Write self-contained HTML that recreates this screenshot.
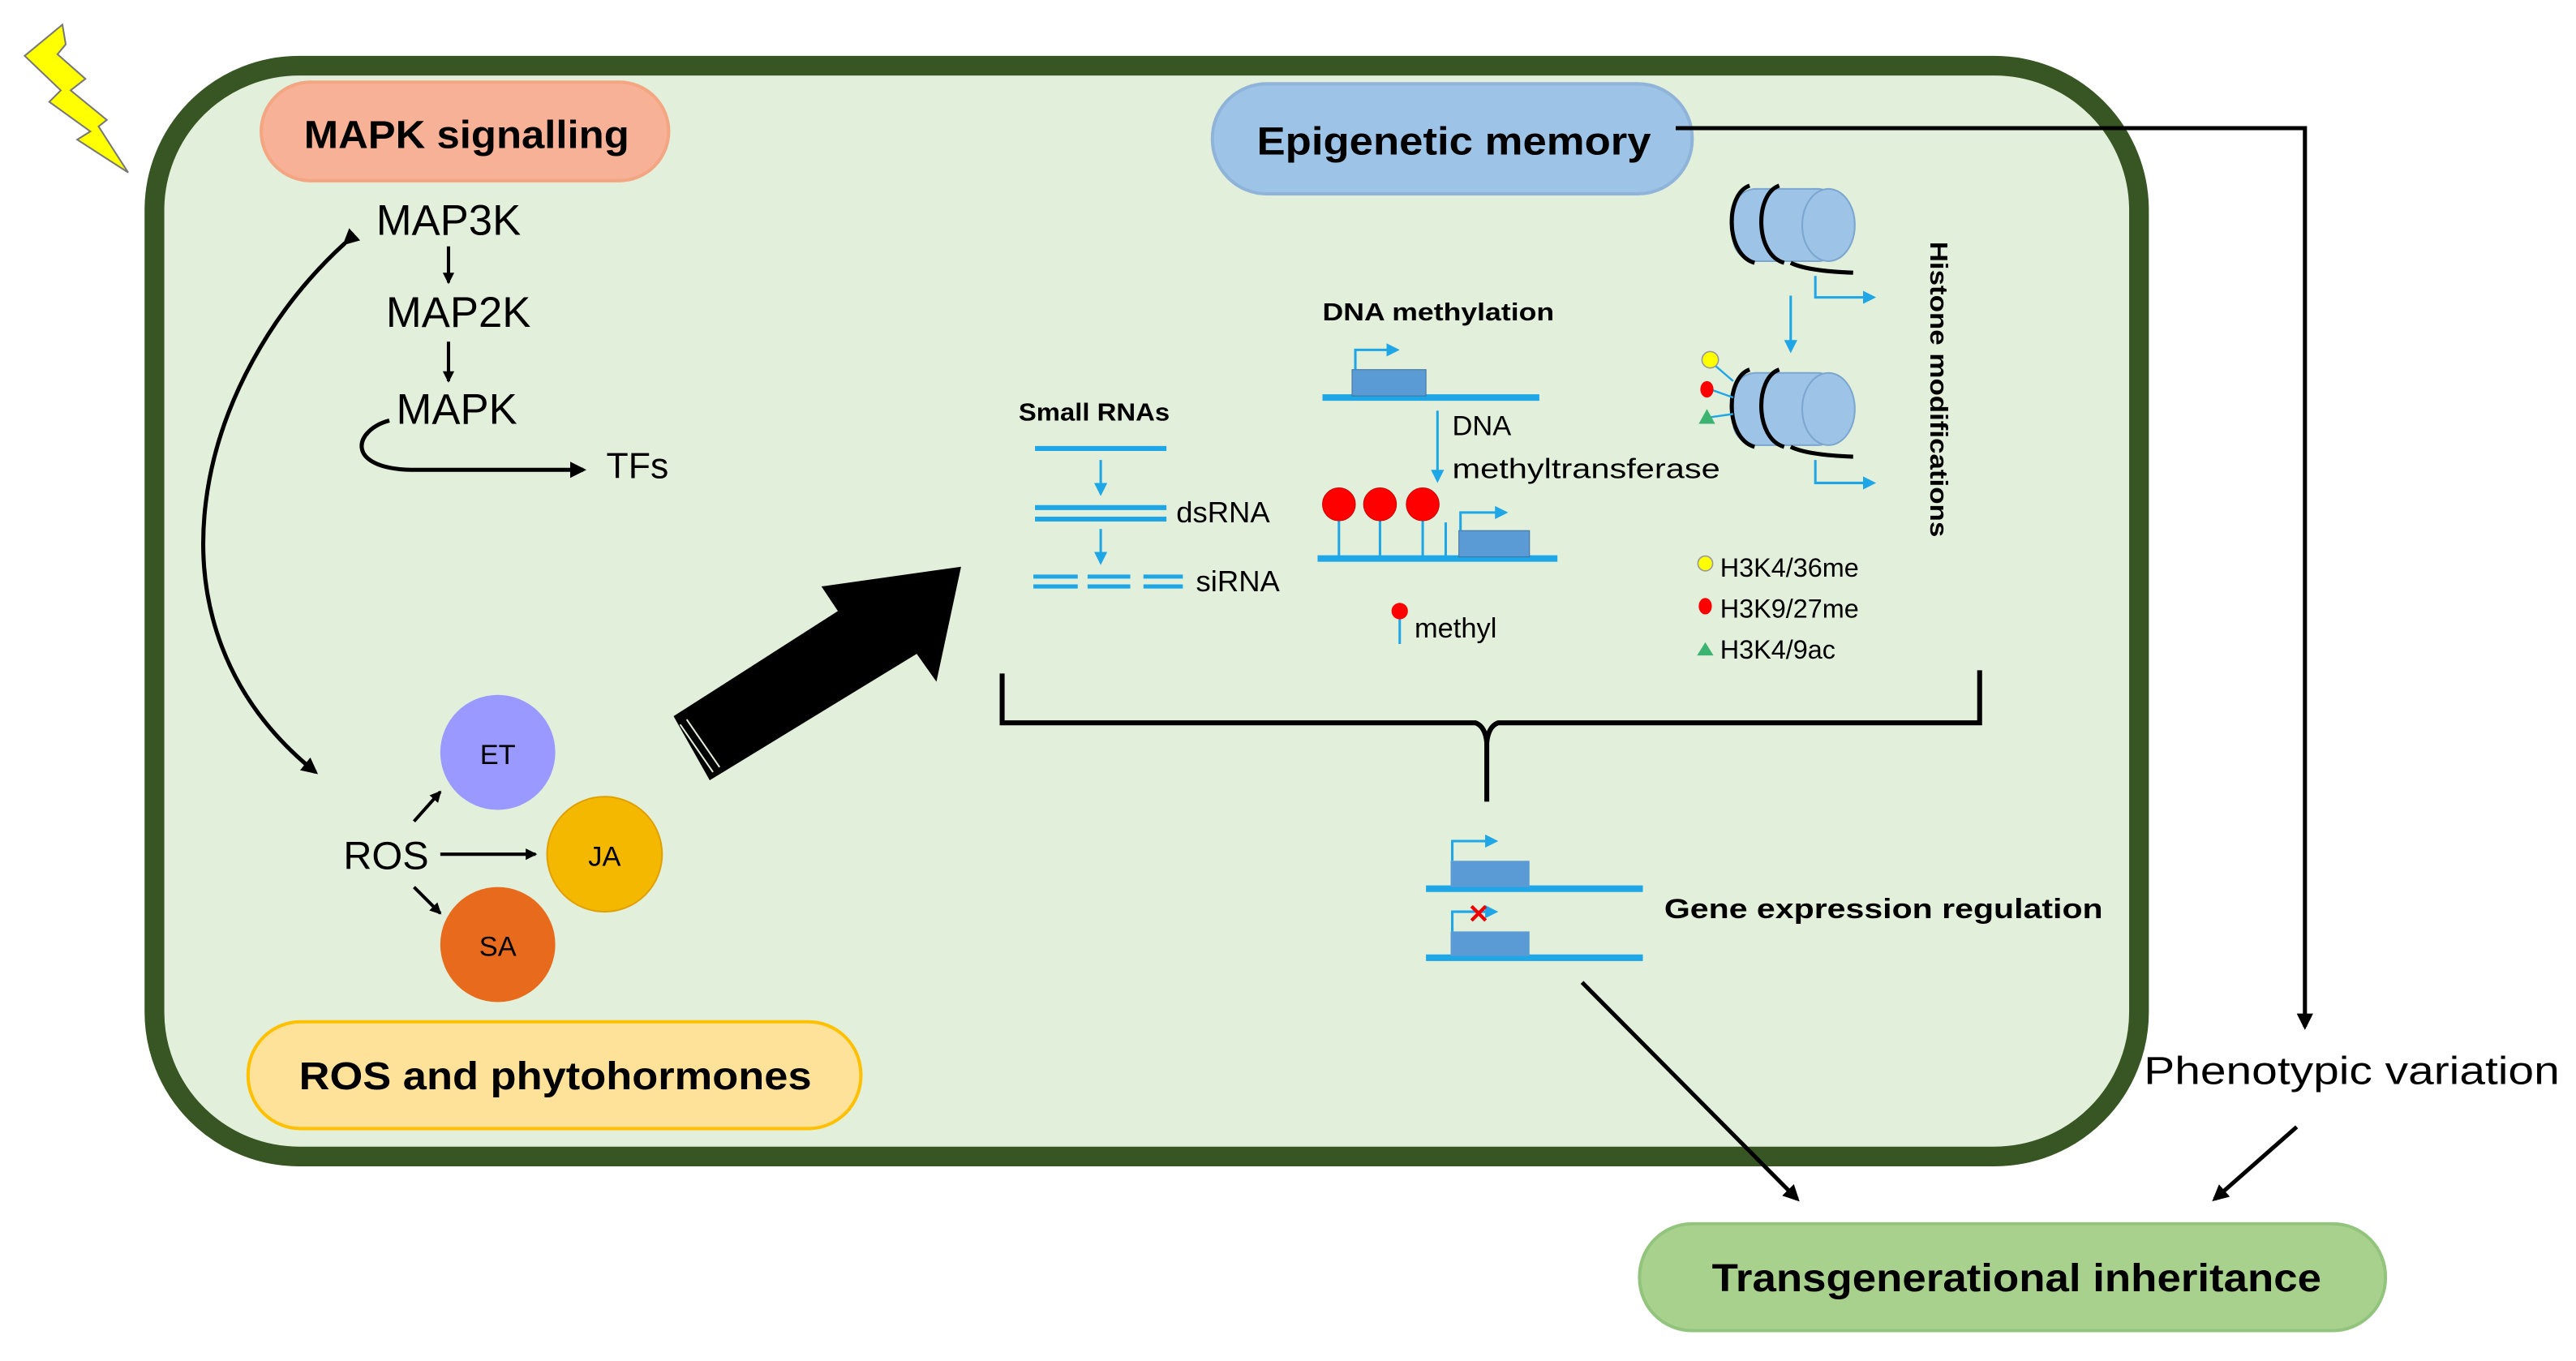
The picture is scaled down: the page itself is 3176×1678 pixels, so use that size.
<!DOCTYPE html>
<html><head><style>
html,body{margin:0;padding:0;background:#fff;}
svg{display:block;}
text{font-family:"Liberation Sans",sans-serif;}
</style></head><body>
<svg width="3176" height="1678" viewBox="0 0 1568 828.5" preserveAspectRatio="none" xmlns="http://www.w3.org/2000/svg">
<defs>
<marker id="ab" markerWidth="10" markerHeight="10" refX="8" refY="5" orient="auto" markerUnits="userSpaceOnUse"><path d="M0,0 L10,5 L0,10 z" fill="#000"/></marker>
<marker id="abs" markerWidth="7" markerHeight="7" refX="6" refY="3.5" orient="auto" markerUnits="userSpaceOnUse"><path d="M0,0 L7,3.5 L0,7 z" fill="#000"/></marker>
<marker id="bl" markerWidth="8" markerHeight="8" refX="6" refY="4" orient="auto" markerUnits="userSpaceOnUse"><path d="M0,0 L8,4 L0,8 z" fill="#1fa6e6"/></marker>
</defs>
<!-- lightning -->
<polygon points="38,15 15,34 37,55 30,62 55,80 47,85 78,105 60,77 65,73 43,55 52,48 35,33 40,27" fill="#ffff00" stroke="#777" stroke-width="1"/>
<!-- cell -->
<rect x="94" y="40" width="1208" height="664" rx="88" fill="#e2efda" stroke="#375623" stroke-width="12"/>
<!-- MAPK pill -->
<rect x="159" y="50" width="248" height="60" rx="30" fill="#f6b196" stroke="#f4a582" stroke-width="2"/>
<text x="185" y="90" font-size="24" font-weight="bold" textLength="198" lengthAdjust="spacingAndGlyphs">MAPK signalling</text>
<text x="273" y="143" font-size="26" text-anchor="middle">MAP3K</text>
<text x="279" y="199" font-size="26" text-anchor="middle">MAP2K</text>
<text x="278" y="258" font-size="26" text-anchor="middle">MAPK</text>
<text x="388" y="291" font-size="22" text-anchor="middle">TFs</text>
<line x1="273" y1="150" x2="273" y2="172" stroke="#000" stroke-width="2" marker-end="url(#abs)"/>
<line x1="273" y1="208" x2="273" y2="232" stroke="#000" stroke-width="2" marker-end="url(#abs)"/>
<path d="M237,256 C215,262 210,285 250,286 L355,286" fill="none" stroke="#000" stroke-width="2.5" marker-end="url(#ab)"/>
<path d="M210,148 C120,230 80,380 192,470" fill="none" stroke="#000" stroke-width="2.5" marker-end="url(#ab)" marker-start="url(#ab)"/>
<!-- ROS -->
<text x="235" y="529" font-size="24" text-anchor="middle">ROS</text>
<circle cx="303" cy="458" r="35" fill="#9999ff"/>
<text x="303" y="465" font-size="17" text-anchor="middle">ET</text>
<circle cx="368" cy="520" r="35" fill="#f5b800" stroke="#e0a000"/>
<text x="368" y="527" font-size="17" text-anchor="middle">JA</text>
<circle cx="303" cy="575" r="35" fill="#e86a1c"/>
<text x="303" y="582" font-size="17" text-anchor="middle">SA</text>
<line x1="252" y1="500" x2="268" y2="482" stroke="#000" stroke-width="2" marker-end="url(#abs)"/>
<line x1="268" y1="520" x2="326" y2="520" stroke="#000" stroke-width="2" marker-end="url(#abs)"/>
<line x1="252" y1="540" x2="268" y2="556" stroke="#000" stroke-width="2" marker-end="url(#abs)"/>
<rect x="151" y="622" width="373" height="65" rx="32" fill="#ffe29a" stroke="#ffc000" stroke-width="2"/>
<text x="182" y="663" font-size="24" font-weight="bold" textLength="312" lengthAdjust="spacingAndGlyphs">ROS and phytohormones</text>
<!-- big arrow -->
<polygon points="410,436 510,372 500,357 585,345 570,415 558,398 432,475" fill="#000"/>
<line x1="414" y1="441" x2="434" y2="470" stroke="#e2efda" stroke-width="1"/>
<line x1="418" y1="438" x2="438" y2="467" stroke="#e2efda" stroke-width="1"/>
<!-- epigenetic memory -->
<rect x="738" y="51" width="292" height="67" rx="33" fill="#9dc3e6" stroke="#8fb3d9" stroke-width="2"/>
<text x="765" y="94" font-size="24" font-weight="bold" textLength="240" lengthAdjust="spacingAndGlyphs">Epigenetic memory</text>
<polyline points="1020,78 1403,78 1403,625" fill="none" stroke="#000" stroke-width="2.5" marker-end="url(#ab)"/>
<text x="1305" y="660" font-size="24" textLength="253" lengthAdjust="spacingAndGlyphs">Phenotypic variation</text>
<line x1="1398" y1="686" x2="1348" y2="730" stroke="#000" stroke-width="2.5" marker-end="url(#ab)"/>
<line x1="963" y1="598" x2="1094" y2="730" stroke="#000" stroke-width="2.5" marker-end="url(#ab)"/>
<rect x="998" y="745" width="454" height="65" rx="32" fill="#a9d18e" stroke="#93c47d" stroke-width="2"/>
<text x="1042" y="786" font-size="24" font-weight="bold" textLength="371" lengthAdjust="spacingAndGlyphs">Transgenerational inheritance</text>
<!-- brace -->
<path d="M610,410 L610,440 L898,440 Q904,442 905,452 L905,488 M905,452 Q906,442 912,440 L1205,440 L1205,408" fill="none" stroke="#000" stroke-width="3"/>
<!-- small RNAs -->
<text x="620" y="256" font-size="15" font-weight="bold" textLength="92" lengthAdjust="spacingAndGlyphs">Small RNAs</text>
<line x1="630" y1="273" x2="710" y2="273" stroke="#1fa6e6" stroke-width="3"/>
<line x1="670" y1="280" x2="670" y2="300" stroke="#1fa6e6" stroke-width="1.5" marker-end="url(#bl)"/>
<line x1="630" y1="309" x2="710" y2="309" stroke="#1fa6e6" stroke-width="3"/>
<line x1="630" y1="316" x2="710" y2="316" stroke="#1fa6e6" stroke-width="3"/>
<text x="716" y="318" font-size="18">dsRNA</text>
<line x1="670" y1="322" x2="670" y2="342" stroke="#1fa6e6" stroke-width="1.5" marker-end="url(#bl)"/>
<g stroke="#1fa6e6" stroke-width="2.5"><line x1="629" y1="351" x2="656" y2="351"/><line x1="629" y1="357" x2="656" y2="357"/><line x1="662" y1="351" x2="688" y2="351"/><line x1="662" y1="357" x2="688" y2="357"/><line x1="696" y1="351" x2="720" y2="351"/><line x1="696" y1="357" x2="720" y2="357"/></g>
<text x="728" y="360" font-size="18">siRNA</text>
<!-- DNA methylation -->
<text x="805" y="195" font-size="15" font-weight="bold" textLength="141" lengthAdjust="spacingAndGlyphs">DNA methylation</text>
<line x1="805" y1="242" x2="937" y2="242" stroke="#1fa6e6" stroke-width="4"/>
<rect x="823" y="225" width="45" height="16" fill="#5b9bd5" stroke="#41719c" stroke-width="0.5"/>
<polyline points="825,225 825,213 850,213" fill="none" stroke="#1fa6e6" stroke-width="1.5" marker-end="url(#bl)"/>
<line x1="875" y1="250" x2="875" y2="292" stroke="#1fa6e6" stroke-width="1.5" marker-end="url(#bl)"/>
<text x="884" y="265" font-size="17">DNA</text>
<text x="884" y="291" font-size="17" textLength="163" lengthAdjust="spacingAndGlyphs">methyltransferase</text>
<line x1="802" y1="340" x2="948" y2="340" stroke="#1fa6e6" stroke-width="4"/>
<g stroke="#1fa6e6" stroke-width="1.5"><line x1="815" y1="312" x2="815" y2="340"/><line x1="840" y1="312" x2="840" y2="340"/><line x1="866" y1="312" x2="866" y2="340"/><line x1="880" y1="318" x2="880" y2="340"/></g>
<circle cx="815" cy="307" r="10" fill="#ff0000" stroke="#c00" stroke-width="0.5"/>
<circle cx="840" cy="307" r="10" fill="#ff0000" stroke="#c00" stroke-width="0.5"/>
<circle cx="866" cy="307" r="10" fill="#ff0000" stroke="#c00" stroke-width="0.5"/>
<rect x="888" y="323" width="43" height="16" fill="#5b9bd5" stroke="#41719c" stroke-width="0.5"/>
<polyline points="889,323 889,312 916,312" fill="none" stroke="#1fa6e6" stroke-width="1.5" marker-end="url(#bl)"/>
<line x1="852" y1="375" x2="852" y2="392" stroke="#1fa6e6" stroke-width="1.5"/>
<circle cx="852" cy="372" r="5" fill="#ff0000"/>
<text x="861" y="388" font-size="17">methyl</text>
<!-- histones -->
<g>
<rect x="1055" y="115" width="65" height="44" rx="14" fill="#9dc3e6" stroke="#7aa6cf"/>
<ellipse cx="1113" cy="137" rx="16" ry="22" fill="#9dc3e6" stroke="#7aa6cf"/>
<path d="M1065,113 C1050,118 1050,155 1068,160 M1083,113 C1068,118 1068,155 1086,160" fill="none" stroke="#000" stroke-width="2.5"/>
<path d="M1090,160 Q1100,165 1128,166" fill="none" stroke="#000" stroke-width="2.5"/>
<polyline points="1105,168 1105,181 1140,181" fill="none" stroke="#1fa6e6" stroke-width="1.5" marker-end="url(#bl)"/>
</g>
<line x1="1090" y1="180" x2="1090" y2="213" stroke="#1fa6e6" stroke-width="1.5" marker-end="url(#bl)"/>
<g>
<rect x="1055" y="227" width="65" height="44" rx="14" fill="#9dc3e6" stroke="#7aa6cf"/>
<ellipse cx="1113" cy="249" rx="16" ry="22" fill="#9dc3e6" stroke="#7aa6cf"/>
<path d="M1065,225 C1050,230 1050,267 1068,272 M1083,225 C1068,230 1068,267 1086,272" fill="none" stroke="#000" stroke-width="2.5"/>
<path d="M1090,272 Q1100,277 1128,278" fill="none" stroke="#000" stroke-width="2.5"/>
<polyline points="1105,280 1105,294 1140,294" fill="none" stroke="#1fa6e6" stroke-width="1.5" marker-end="url(#bl)"/>
<g stroke="#1fa6e6" stroke-width="1.2"><line x1="1041" y1="220" x2="1055" y2="232"/><line x1="1041" y1="237" x2="1055" y2="242"/><line x1="1041" y1="254" x2="1055" y2="252"/></g>
<circle cx="1041" cy="219" r="5" fill="#ffff00" stroke="#999" stroke-width="0.8"/>
<ellipse cx="1039" cy="237" rx="4" ry="5" fill="#ff0000"/>
<polygon points="1034,258 1039,249 1044,258" fill="#3cb371"/>
</g>
<text transform="translate(1175,147) rotate(90)" font-size="15" font-weight="bold" textLength="180" lengthAdjust="spacingAndGlyphs">Histone modifications</text>
<circle cx="1038" cy="343" r="4.5" fill="#ffff00" stroke="#999" stroke-width="0.8"/>
<text x="1047" y="351" font-size="16">H3K4/36me</text>
<ellipse cx="1038" cy="369" rx="4" ry="5" fill="#ff0000"/>
<text x="1047" y="376" font-size="16">H3K9/27me</text>
<polygon points="1033,399 1038,391 1043,399" fill="#3cb371"/>
<text x="1047" y="401" font-size="16">H3K4/9ac</text>
<!-- gene expression -->
<line x1="868" y1="541" x2="1000" y2="541" stroke="#1fa6e6" stroke-width="4"/>
<rect x="883" y="524" width="48" height="16" fill="#5b9bd5"/>
<polyline points="884,524 884,512 910,512" fill="none" stroke="#1fa6e6" stroke-width="1.5" marker-end="url(#bl)"/>
<line x1="868" y1="583" x2="1000" y2="583" stroke="#1fa6e6" stroke-width="4"/>
<rect x="883" y="567" width="48" height="15" fill="#5b9bd5"/>
<polyline points="884,567 884,555 910,555" fill="none" stroke="#1fa6e6" stroke-width="1.5" marker-end="url(#bl)"/>
<text x="900" y="562" font-size="16" font-weight="bold" fill="#e00" text-anchor="middle">✕</text>
<text x="1013" y="559" font-size="17" font-weight="bold" textLength="267" lengthAdjust="spacingAndGlyphs">Gene expression regulation</text>
</svg>
</body></html>
